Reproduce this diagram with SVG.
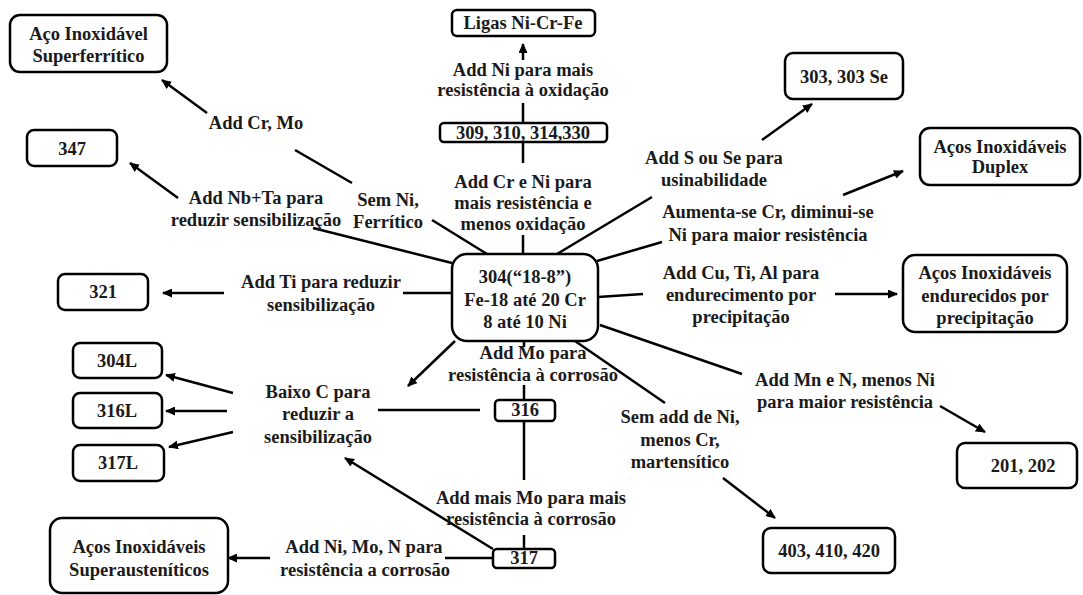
<svg xmlns="http://www.w3.org/2000/svg" width="1083" height="595" viewBox="0 0 1083 595">
<style>
.box{fill:#fff;stroke:#000;stroke-width:2.5}
.t{font-family:"Liberation Serif","Times New Roman",serif;font-weight:bold;font-size:18.5px;text-anchor:middle;dominant-baseline:central;fill:#1a1a1a}
.ln{stroke:#000;stroke-width:2.5;fill:none}
.ar{marker-end:url(#ah)}
</style>
<defs>
<marker id="ah" markerUnits="userSpaceOnUse" markerWidth="10" markerHeight="9" refX="9" refY="4.5" orient="auto">
<path d="M0,0 L10,4.5 L0,9 z" fill="#000"/>
</marker>
</defs>
<rect width="1083" height="595" fill="#fff"/>
<g id="connectors">
<line class="ln" x1="295" y1="150" x2="352" y2="183"/>
<line class="ln" x1="432" y1="220" x2="487" y2="254"/>
<line class="ln" x1="313" y1="228" x2="452" y2="263"/>
<line class="ln" x1="403" y1="293" x2="452" y2="293"/>
<line class="ln" x1="523" y1="103" x2="523" y2="123"/>
<line class="ln" x1="523" y1="142" x2="523" y2="163"/>
<line class="ln" x1="523" y1="235" x2="523" y2="254"/>
<line class="ln" x1="557" y1="254" x2="652" y2="197"/>
<line class="ln" x1="597" y1="261" x2="662" y2="242"/>
<line class="ln" x1="598" y1="297" x2="643" y2="294"/>
<line class="ln" x1="600" y1="325" x2="742" y2="374"/>
<line class="ln" x1="575" y1="341" x2="665" y2="403"/>
<line class="ln" x1="524" y1="341" x2="524" y2="347"/>
<line class="ln" x1="524" y1="385" x2="524" y2="400"/>
<line class="ln" x1="378" y1="410" x2="480" y2="410"/>
<line class="ln" x1="524" y1="421" x2="524" y2="480"/>
<line class="ln" x1="524" y1="535" x2="524" y2="549"/>
<line class="ln" x1="445" y1="558" x2="493" y2="558"/>
<line class="ln ar" x1="523" y1="60" x2="523" y2="44"/>
<line class="ln ar" x1="207" y1="113" x2="162" y2="80"/>
<line class="ln ar" x1="178" y1="198" x2="130" y2="163"/>
<line class="ln ar" x1="762" y1="140" x2="812" y2="104"/>
<line class="ln ar" x1="843" y1="195" x2="903" y2="171"/>
<line class="ln ar" x1="224" y1="293" x2="163" y2="293"/>
<line class="ln ar" x1="835" y1="294" x2="897" y2="294"/>
<line class="ln ar" x1="455" y1="341" x2="408" y2="386"/>
<line class="ln ar" x1="233" y1="393" x2="166" y2="375"/>
<line class="ln ar" x1="227" y1="411" x2="166" y2="411"/>
<line class="ln ar" x1="233" y1="432" x2="169" y2="447"/>
<line class="ln ar" x1="940" y1="406" x2="985" y2="432"/>
<line class="ln ar" x1="723" y1="478" x2="775" y2="518"/>
<line class="ln ar" x1="493" y1="549" x2="345" y2="458"/>
<line class="ln ar" x1="270" y1="558" x2="228" y2="558"/>
</g>
<g id="labels">
<text class="t" x="256" y="123">Add Cr, Mo</text>
<text class="t" x="256" y="198">Add Nb+Ta para</text>
<text class="t" x="256" y="220">reduzir sensibilização</text>
<text class="t" x="388" y="200">Sem Ni,</text>
<text class="t" x="388" y="222">Ferrítico</text>
<text class="t" x="523" y="70">Add Ni para mais</text>
<text class="t" x="523" y="90">resistência à oxidação</text>
<text class="t" x="523" y="182">Add Cr e Ni para</text>
<text class="t" x="523" y="203">mais resistência e</text>
<text class="t" x="523" y="224">menos oxidação</text>
<text class="t" x="714" y="158">Add S ou Se para</text>
<text class="t" x="714" y="180">usinabilidade</text>
<text class="t" x="768" y="212">Aumenta-se Cr, diminui-se</text>
<text class="t" x="768" y="235">Ni para maior resistência</text>
<text class="t" x="321" y="282">Add Ti para reduzir</text>
<text class="t" x="321" y="305">sensibilização</text>
<text class="t" x="741" y="273">Add Cu, Ti, Al para</text>
<text class="t" x="741" y="295">endurecimento por</text>
<text class="t" x="741" y="317">precipitação</text>
<text class="t" x="533" y="353">Add Mo para</text>
<text class="t" x="533" y="375">resistência à corrosão</text>
<text class="t" x="318" y="392">Baixo C para</text>
<text class="t" x="318" y="414">reduzir a</text>
<text class="t" x="318" y="437">sensibilização</text>
<text class="t" x="845" y="380">Add Mn e N, menos Ni</text>
<text class="t" x="845" y="402">para maior resistência</text>
<text class="t" x="680" y="417">Sem add de Ni,</text>
<text class="t" x="680" y="440">menos Cr,</text>
<text class="t" x="680" y="462">martensítico</text>
<text class="t" x="531" y="498">Add mais Mo para mais</text>
<text class="t" x="531" y="519">resistência à corrosão</text>
<text class="t" x="364" y="547">Add Ni, Mo, N para</text>
<text class="t" x="365" y="570">resistência a corrosão</text>
</g>
<g id="n-superferritico"><rect class="box" x="10" y="15" width="157" height="57" rx="10"/><text class="t" x="88.5" y="34">Aço Inoxidável</text><text class="t" x="88.5" y="56">Superferrítico</text></g>
<g id="n-347"><rect class="box" x="27" y="130" width="90" height="36" rx="7"/><text class="t" x="72" y="149">347</text></g>
<g id="n-ligas"><rect class="box" x="452" y="10" width="143" height="26" rx="5"/><text class="t" x="523" y="23">Ligas Ni-Cr-Fe</text></g>
<g id="n-309"><rect class="box" x="440" y="123" width="167" height="19" rx="4"/><text class="t" x="523" y="133">309, 310, 314,330</text></g>
<g id="n-303"><rect class="box" x="785" y="53" width="118" height="46" rx="8"/><text class="t" x="844" y="77">303, 303 Se</text></g>
<g id="n-duplex"><rect class="box" x="920" y="128" width="160" height="57" rx="10"/><text class="t" x="1000" y="147">Aços Inoxidáveis</text><text class="t" x="1000" y="167">Duplex</text></g>
<g id="n-304"><rect class="box" x="452" y="254" width="146" height="87" rx="15"/><text class="t" x="525" y="277">304(“18-8”)</text><text class="t" x="525" y="300">Fe-18 até 20 Cr</text><text class="t" x="525" y="322">8 até 10 Ni</text></g>
<g id="n-321"><rect class="box" x="58" y="274" width="90" height="36" rx="7"/><text class="t" x="103" y="292">321</text></g>
<g id="n-precip"><rect class="box" x="903" y="255" width="164" height="77" rx="12"/><text class="t" x="985" y="273">Aços Inoxidáveis</text><text class="t" x="985" y="296">endurecidos por</text><text class="t" x="985" y="318">precipitação</text></g>
<g id="n-304L"><rect class="box" x="73" y="343" width="89" height="35" rx="7"/><text class="t" x="117" y="361">304L</text></g>
<g id="n-316L"><rect class="box" x="73" y="393" width="89" height="35" rx="7"/><text class="t" x="117" y="411">316L</text></g>
<g id="n-317L"><rect class="box" x="73" y="445" width="91" height="36" rx="7"/><text class="t" x="118" y="463">317L</text></g>
<g id="n-316"><rect class="box" x="495" y="400" width="60" height="21" rx="4"/><text class="t" x="525" y="410">316</text></g>
<g id="n-317"><rect class="box" x="493" y="549" width="62" height="19" rx="4"/><text class="t" x="524" y="558">317</text></g>
<g id="n-superaust"><rect class="box" x="50" y="518" width="178" height="75" rx="12"/><text class="t" x="139" y="547">Aços Inoxidáveis</text><text class="t" x="139" y="570">Superausteníticos</text></g>
<g id="n-201"><rect class="box" x="957" y="443" width="120" height="45" rx="8"/><text class="t" x="1023" y="466">201, 202</text></g>
<g id="n-403"><rect class="box" x="763" y="528" width="132" height="45" rx="8"/><text class="t" x="829" y="551">403, 410, 420</text></g>
</svg>
